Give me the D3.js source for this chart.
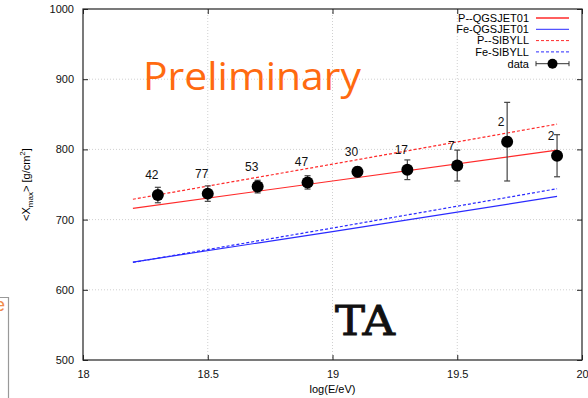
<!DOCTYPE html>
<html>
<head>
<meta charset="utf-8">
<script src="https://cdn.jsdelivr.net/npm/d3@7"></script>
<style>
    body { margin: 0; background: #fff; }
    svg { display: block; }
</style>
</head>
<body>
<div id="chart-holder"></div>
<script>
// data
var energies = [18.3, 18.5, 18.7, 18.9, 19.1, 19.3, 19.5, 19.7, 19.9];
var xmaxValues = [735, 737, 747, 753, 768, 771, 777, 811, 791];
var xmaxErrors = [11, 11, 9, 9.5, 7, 14, 22, 56, 30];
var eventCounts = ['42', '77', '53', '47', '30', '17', '7', '2', '2'];

// model predictions [log(E/eV), <Xmax>]
var pQgsjet = [[18.2, 716], [19.0, 755], [19.9, 799]];
var feQgsjet = [[18.2, 639.5], [19.0, 683], [19.9, 733]];
var pSibyll = [[18.2, 729], [19.0, 779], [19.9, 836]];
var feSibyll = [[18.2, 639], [19.0, 688], [19.9, 744]];

var xTicks = [18, 18.5, 19, 19.5, 20];
var yTicks = [500, 600, 700, 800, 900, 1000];

function buildChart(containerId) {
    var width = 588;
    var height = 398;

    var margin = { top: 9, right: 6, bottom: 38, left: 83 };
    var innerWidth = width - margin.left - margin.right;
    var innerHeight = height - margin.top - margin.bottom;

    var svg = d3
        .select(containerId)
        .append('svg')
        .attr('width', width)
        .attr('height', height)
        .style('font-family', '"Liberation Sans", Arial, sans-serif');

    // stray slide fragment at the left edge
    svg.append('text')
        .attr('x', -5)
        .attr('y', 311)
        .attr('fill', '#f08a4b')
        .style('font-size', '18px')
        .text('e');
    svg.append('path')
        .attr('d', 'M0,297.5H8.5V398')
        .attr('fill', 'none')
        .attr('stroke', '#999')
        .attr('stroke-width', 1.2);

    var g = svg
        .append('g')
        .attr('transform', 'translate(' + margin.left + ',' + margin.top + ')');

    // scales
    var x = d3.scaleLinear().domain([18, 20]).range([0, innerWidth]);
    var y = d3.scaleLinear().domain([500, 1000]).range([innerHeight, 0]);

    // grid
    g.append('g')
        .attr('class', 'grid')
        .selectAll('line.gx')
        .data(xTicks.slice(1, -1))
        .enter()
        .append('line')
        .attr('x1', function(d) { return x(d); })
        .attr('x2', function(d) { return x(d); })
        .attr('y1', 0)
        .attr('y2', innerHeight)
        .attr('stroke', '#d0d0d0')
        .attr('stroke-dasharray', '1,2');

    g.append('g')
        .attr('class', 'grid')
        .selectAll('line.gy')
        .data(yTicks.slice(1, -1))
        .enter()
        .append('line')
        .attr('x1', 0)
        .attr('x2', innerWidth)
        .attr('y1', function(d) { return y(d); })
        .attr('y2', function(d) { return y(d); })
        .attr('stroke', '#d0d0d0')
        .attr('stroke-dasharray', '1,2');

    // axes with inward ticks, mirrored on top/right
    function styleAxis(sel) {
        sel.select('.domain').remove();
        sel.selectAll('.tick line').attr('stroke', '#222');
        sel.selectAll('.tick text')
            .attr('fill', '#111')
            .style('font-size', '11px');
    }

    g.append('g')
        .attr('transform', 'translate(0,' + innerHeight + ')')
        .call(d3.axisBottom(x).tickValues(xTicks).tickFormat(d3.format('')).tickSizeInner(-5).tickPadding(10))
        .call(styleAxis);

    g.append('g')
        .call(d3.axisTop(x).tickValues(xTicks).tickFormat('').tickSizeInner(-5))
        .call(styleAxis);

    g.append('g')
        .call(d3.axisLeft(y).tickValues(yTicks).tickFormat(d3.format('d')).tickSizeInner(-5).tickPadding(9))
        .call(styleAxis);

    g.append('g')
        .attr('transform', 'translate(' + innerWidth + ',0)')
        .call(d3.axisRight(y).tickValues(yTicks).tickFormat('').tickSizeInner(-5))
        .call(styleAxis);

    // frame
    g.append('rect')
        .attr('width', innerWidth)
        .attr('height', innerHeight)
        .attr('fill', 'none')
        .attr('stroke', '#222')
        .attr('stroke-width', 1.2);

    // axis labels
    g.append('text')
        .attr('x', innerWidth / 2)
        .attr('y', innerHeight + 33)
        .attr('text-anchor', 'middle')
        .style('font-size', '11px')
        .text('log(E/eV)');

    var yLab = g.append('text')
        .attr('transform', 'translate(-53,' + innerHeight / 2 + ') rotate(-90)')
        .attr('text-anchor', 'middle')
        .style('font-size', '11px');
    yLab.append('tspan').text('<X');
    yLab.append('tspan').attr('dy', 3).style('font-size', '8px').text('max');
    yLab.append('tspan').attr('dy', -3).text('> [g/cm');
    yLab.append('tspan').attr('dy', -5).style('font-size', '8px').text('2');
    yLab.append('tspan').attr('dy', 5).text(']');

    // model lines
    var line = d3.line()
        .x(function(d) { return x(d[0]); })
        .y(function(d) { return y(d[1]); });

    var models = [
        { name: 'P--QGSJET01', pts: pQgsjet, color: '#ff2a2a', dash: null },
        { name: 'Fe-QGSJET01', pts: feQgsjet, color: '#2a2aff', dash: null },
        { name: 'P--SIBYLL', pts: pSibyll, color: '#ff2a2a', dash: '3,2' },
        { name: 'Fe-SIBYLL', pts: feSibyll, color: '#2a2aff', dash: '3,2' }
    ];

    models.forEach(function(m) {
        g.append('path')
            .datum(m.pts)
            .attr('d', line)
            .attr('fill', 'none')
            .attr('stroke', m.color)
            .attr('stroke-width', 1.2)
            .attr('stroke-dasharray', m.dash);
    });

    // data points
    var pts = energies.map(function(e, i) {
        return { e: e, v: xmaxValues[i], err: xmaxErrors[i], n: eventCounts[i] };
    });

    var pg = g.selectAll('.pt')
        .data(pts)
        .enter()
        .append('g')
        .attr('class', 'pt');

    pg.append('line')
        .attr('x1', function(d) { return x(d.e); })
        .attr('x2', function(d) { return x(d.e); })
        .attr('y1', function(d) { return y(d.v + d.err); })
        .attr('y2', function(d) { return y(d.v - d.err); })
        .attr('stroke', '#444')
        .attr('stroke-width', 1.2);

    [1, -1].forEach(function(s) {
        pg.append('line')
            .attr('x1', function(d) { return x(d.e) - 3; })
            .attr('x2', function(d) { return x(d.e) + 3; })
            .attr('y1', function(d) { return y(d.v + s * d.err); })
            .attr('y2', function(d) { return y(d.v + s * d.err); })
            .attr('stroke', '#444')
            .attr('stroke-width', 1.2);
    });

    pg.append('circle')
        .attr('cx', function(d) { return x(d.e); })
        .attr('cy', function(d) { return y(d.v); })
        .attr('r', 6)
        .attr('fill', '#000');

    pg.append('text')
        .attr('x', function(d) { return x(d.e) - 6; })
        .attr('y', function(d) { return y(d.v) - 16; })
        .attr('text-anchor', 'middle')
        .style('font-size', '12px')
        .attr('fill', '#111')
        .text(function(d) { return d.n; });

    // legend
    var legend = g.append('g').attr('transform', 'translate(' + (innerWidth - 53) + ',9)');
    var rowH = 11.3;

    models.forEach(function(m, i) {
        legend.append('text')
            .attr('x', 0)
            .attr('y', i * rowH)
            .attr('dy', '0.35em')
            .attr('text-anchor', 'end')
            .style('font-size', '11px')
            .text(m.name);
        legend.append('line')
            .attr('x1', 7)
            .attr('x2', 40)
            .attr('y1', i * rowH)
            .attr('y2', i * rowH)
            .attr('stroke', m.color)
            .attr('stroke-width', i === 0 ? 1.5 : 1)
            .attr('stroke-dasharray', m.dash);
    });

    var dy = 4 * rowH + 0.5;
    legend.append('text')
        .attr('x', 0)
        .attr('y', dy)
        .attr('dy', '0.35em')
        .attr('text-anchor', 'end')
        .style('font-size', '11px')
        .text('data');
    legend.append('path')
        .attr('d', 'M7,' + (dy - 2.5) + 'V' + (dy + 2.5) + 'M7,' + dy + 'H40M40,' + (dy - 2.5) + 'V' + (dy + 2.5))
        .attr('stroke', '#333')
        .attr('fill', 'none');
    legend.append('circle')
        .attr('cx', 23.5)
        .attr('cy', dy)
        .attr('r', 5)
        .attr('fill', '#000');

    // overlays
    g.append('text')
        .attr('x', 143 - margin.left)
        .attr('y', 90 - margin.top)
        .attr('fill', '#ff6a10')
        .attr('textLength', 218)
        .attr('lengthAdjust', 'spacingAndGlyphs')
        .style('font-family', '"Open Sans", Lato, sans-serif')
        .style('font-size', '39px')
        .text('Preliminary');

    g.append('text')
        .attr('x', 335 - margin.left)
        .attr('y', 335 - margin.top)
        .attr('fill', '#111')
        .attr('stroke', '#111')
        .attr('stroke-width', 0.9)
        .attr('textLength', 60)
        .attr('lengthAdjust', 'spacingAndGlyphs')
        .style('font-family', '"DejaVu Serif", serif')
        .style('font-size', '41px')
        .text('TA');
}

buildChart('#chart-holder');
</script>
</body>
</html>
